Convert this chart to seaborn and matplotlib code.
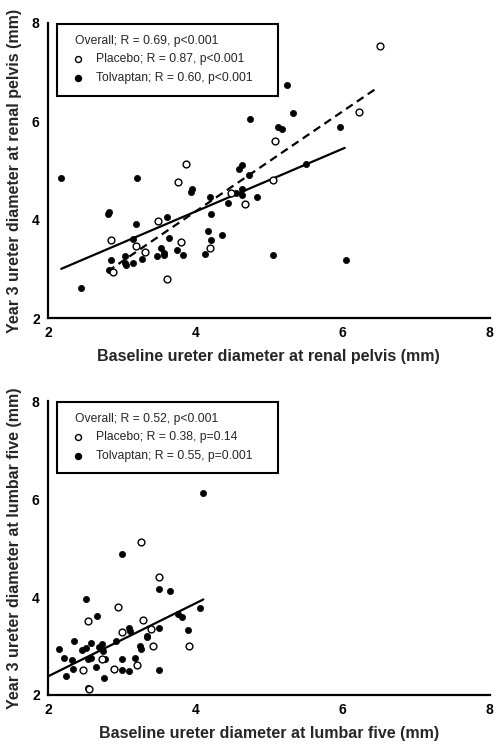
from __future__ import annotations

import matplotlib

matplotlib.use("Agg")

import matplotlib.pyplot as plt
import pandas as pd
import seaborn as sns
from matplotlib.lines import Line2D
from matplotlib.patches import Rectangle


# renal pelvis panel
PELVIS_TOLV_X = [2.18, 2.45, 2.81, 2.83, 2.86, 2.83, 3.04, 3.04, 3.06, 3.15,
                 3.15, 3.19, 3.21, 3.28, 3.48, 3.53, 3.57, 3.57, 3.61, 3.65,
                 3.75, 3.83, 3.94, 3.95, 4.13, 4.17, 4.20, 4.22, 4.22, 4.36,
                 4.44, 4.55, 4.59, 4.63, 4.63, 4.64, 4.73, 4.75, 4.84, 5.05,
                 5.12, 5.18, 5.24, 5.33, 5.51, 5.97, 6.05]
PELVIS_TOLV_Y = [4.84, 2.61, 4.11, 4.16, 3.19, 2.97, 3.27, 3.12, 3.07, 3.12,
                 3.61, 3.91, 4.84, 3.21, 3.26, 3.43, 3.33, 3.28, 4.05, 3.63,
                 3.38, 3.28, 4.56, 4.62, 3.30, 3.76, 4.46, 4.12, 3.59, 3.69,
                 4.33, 4.55, 5.04, 5.12, 4.62, 4.50, 4.90, 6.05, 4.46, 3.28,
                 5.89, 5.85, 6.73, 6.17, 5.13, 5.89, 3.18]
PELVIS_PLAC_X = [2.85, 2.88, 3.19, 3.32, 3.50, 3.62, 3.76, 3.81, 3.87, 4.20,
                 4.48, 4.68, 5.05, 5.09, 6.22, 6.51]
PELVIS_PLAC_Y = [3.59, 2.94, 3.46, 3.35, 3.97, 2.80, 4.76, 3.54, 5.14, 3.42,
                 4.54, 4.32, 4.80, 5.61, 6.18, 7.54]
PELVIS_OVERALL_FIT_X = [2.18, 6.03]
PELVIS_OVERALL_FIT_Y = [3.00, 5.46]
PELVIS_PLAC_FIT_X = [2.81, 6.46]
PELVIS_PLAC_FIT_Y = [2.95, 6.67]
PELVIS_LEGEND = [
    "Overall; R = 0.69, p<0.001",
    "Placebo; R = 0.87, p<0.001",
    "Tolvaptan; R = 0.60, p<0.001",
]

# lumbar five panel
L5_TOLV_X = [2.15, 2.22, 2.24, 2.33, 2.34, 2.35, 2.46, 2.52, 2.51, 2.55,
             2.55, 2.58, 2.59, 2.65, 2.66, 2.69, 2.74, 2.76, 2.77, 2.75,
             2.89, 2.92, 3.01, 3.01, 3.10, 3.10, 3.11, 3.18, 3.25, 3.26,
             3.34, 3.35, 3.51, 3.51, 3.51, 3.66, 3.77, 3.82, 3.90, 4.07,
             3.01, 4.11]
L5_TOLV_Y = [2.93, 2.76, 2.39, 2.71, 2.54, 3.11, 2.91, 2.95, 3.95, 2.73,
             2.14, 3.07, 2.75, 2.57, 3.61, 2.98, 3.04, 2.34, 2.73, 2.90,
             2.54, 3.10, 2.74, 2.50, 2.48, 3.36, 3.31, 2.76, 3.01, 2.93,
             3.19, 3.21, 3.36, 2.51, 4.17, 4.13, 3.65, 3.59, 3.33, 3.78,
             4.88, 6.13]
L5_PLAC_X = [2.54, 2.56, 2.47, 2.73, 2.95, 3.01, 2.90, 3.21, 3.29, 3.40,
             3.42, 3.51, 3.91, 3.26]
L5_PLAC_Y = [3.52, 2.12, 2.52, 2.73, 3.79, 3.29, 2.54, 2.62, 3.53, 3.35,
             3.01, 4.40, 3.01, 5.12]
L5_OVERALL_FIT_X = [2.00, 4.11]
L5_OVERALL_FIT_Y = [2.38, 3.95]
L5_LEGEND = [
    "Overall; R = 0.52, p<0.001",
    "Placebo; R = 0.38, p=0.14",
    "Tolvaptan; R = 0.55, p=0.001",
]

TICKS = [2, 4, 6, 8]


def draw_legend(ax, labels: list[str]) -> None:
    box = Rectangle((0.021, 0.754), 0.499, 0.243, transform=ax.transAxes,
                    fill=False, edgecolor="black", linewidth=1.5, zorder=5,
                    clip_on=False)
    ax.add_patch(box)
    rows = [0.940, 0.879, 0.813]
    ax.text(0.061, rows[0], labels[0], transform=ax.transAxes, fontsize=8.7,
            va="center", ha="left", zorder=6)
    ax.add_line(Line2D([0.068], [rows[1]], transform=ax.transAxes, marker="o",
                       markersize=4.3, markerfacecolor="white",
                       markeredgecolor="black", markeredgewidth=1, linestyle="none"))
    ax.add_line(Line2D([0.068], [rows[2]], transform=ax.transAxes, marker="o",
                       markersize=4.3, markerfacecolor="black",
                       markeredgecolor="black", linestyle="none"))
    ax.text(0.109, rows[1], labels[1], transform=ax.transAxes, fontsize=8.7,
            va="center", ha="left", zorder=6)
    ax.text(0.109, rows[2], labels[2], transform=ax.transAxes, fontsize=8.7,
            va="center", ha="left", zorder=6)


def draw_panel(ax, tolv_x, tolv_y, plac_x, plac_y, fits, legend, xlabel, ylabel):
    for fit_x, fit_y, dashed in fits:
        fit_df = pd.DataFrame({"x": fit_x, "y": fit_y})
        sns.lineplot(data=fit_df, x="x", y="y", ax=ax, color="black",
                     linewidth=1.6, zorder=2)
        if dashed:
            ax.lines[-1].set_dashes((3.6, 2.3))

    tolv_df = pd.DataFrame({"x": tolv_x, "y": tolv_y})
    plac_df = pd.DataFrame({"x": plac_x, "y": plac_y})
    sns.scatterplot(data=tolv_df, x="x", y="y", ax=ax, color="black",
                    edgecolor="black", s=20, linewidth=0.5, zorder=3)
    sns.scatterplot(data=plac_df, x="x", y="y", ax=ax, facecolor="white",
                    edgecolor="black", s=24, linewidth=1.0, zorder=4)

    ax.set_xlim(2, 8)
    ax.set_ylim(2, 8)
    ax.set_xticks(TICKS)
    ax.set_yticks(TICKS)
    ax.set_xlabel(xlabel, fontsize=11.5, fontweight="bold", labelpad=6)
    ax.set_ylabel(ylabel, fontsize=11.5, fontweight="bold", labelpad=7)
    for label in ax.get_xticklabels() + ax.get_yticklabels():
        label.set_fontweight("bold")
    ax.tick_params(direction="out", length=4, width=1.5, labelsize=10,
                   pad=2, colors="black")
    sns.despine(ax=ax)
    for side in ["left", "bottom"]:
        ax.spines[side].set_linewidth(1.6)
        ax.spines[side].set_color("black")
    draw_legend(ax, legend)


def main() -> None:
    sns.set_style("white")
    plt.rcParams["font.family"] = ["Liberation Sans", "DejaVu Sans"]

    fig = plt.figure(figsize=(5.02, 7.49), dpi=100)
    ax_top = fig.add_axes([0.0956, 0.5754, 0.880, 0.3939])
    ax_bottom = fig.add_axes([0.0956, 0.0721, 0.880, 0.3925])

    draw_panel(
        ax_top, PELVIS_TOLV_X, PELVIS_TOLV_Y, PELVIS_PLAC_X, PELVIS_PLAC_Y,
        [(PELVIS_OVERALL_FIT_X, PELVIS_OVERALL_FIT_Y, False),
         (PELVIS_PLAC_FIT_X, PELVIS_PLAC_FIT_Y, True)],
        PELVIS_LEGEND,
        "Baseline ureter diameter at renal pelvis (mm)",
        "Year 3 ureter diameter at renal pelvis (mm)",
    )
    draw_panel(
        ax_bottom, L5_TOLV_X, L5_TOLV_Y, L5_PLAC_X, L5_PLAC_Y,
        [(L5_OVERALL_FIT_X, L5_OVERALL_FIT_Y, False)],
        L5_LEGEND,
        "Baseline ureter diameter at lumbar five (mm)",
        "Year 3 ureter diameter at lumbar five (mm)",
    )

    fig.savefig("out.png", dpi=100)
    plt.close(fig)


if __name__ == "__main__":
    main()
